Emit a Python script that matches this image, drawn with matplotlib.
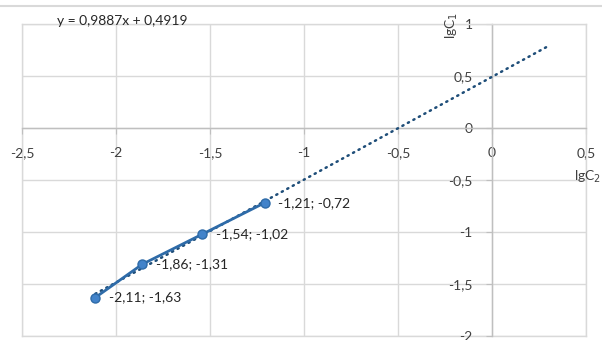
import matplotlib
matplotlib.use("Agg")
import matplotlib.pyplot as plt
from matplotlib.lines import Line2D
import numpy as np

plt.rcParams['font.family'] = ['Lato', 'DejaVu Sans']

# lg C2 vs lg C1 measurements
lg_c2 = [-2.11, -1.86, -1.54, -1.21]
lg_c1 = [-1.63, -1.31, -1.02, -0.72]
point_labels = ["-2,11; -1,63", "-1,86; -1,31", "-1,54; -1,02", "-1,21; -0,72"]

# linear trend y = k x + b
slope = 0.9887
intercept = 0.4919
trend_forward = 1.5
equation_text = "y = 0,9887x + 0,4919"

x_ticks = [-2.5, -2.0, -1.5, -1.0, -0.5, 0.0, 0.5]
x_tick_labels = ["-2,5", "-2", "-1,5", "-1", "-0,5", "0", "0,5"]
y_ticks = [-2.0, -1.5, -1.0, -0.5, 0.0, 0.5, 1.0]
y_tick_labels = ["-2", "-1,5", "-1", "-0,5", "0", "0,5", "1"]

W, H = 602, 340
fig = plt.figure(figsize=(W / 100, H / 100), dpi=100)
left, right, top, bottom = 22, 586, 24, 336
ax = fig.add_axes([left / W, 1 - bottom / H, (right - left) / W, (bottom - top) / H])

grid_c = '#D9D9D9'
axis_c = '#BFBFBF'
text_c = '#404040'

ax.set_xlim(x_ticks[0], x_ticks[-1])
ax.set_ylim(y_ticks[0], y_ticks[-1])
ax.set_xticks(x_ticks)
ax.set_xticklabels(x_tick_labels)
ax.set_yticks(y_ticks)
ax.set_yticklabels(y_tick_labels)

ax.grid(True, color=grid_c, linewidth=1.0, zorder=0)
ax.set_axisbelow(True)

# frame of the plot area
for s in ['top', 'right']:
    ax.spines[s].set_color(grid_c)
    ax.spines[s].set_linewidth(1.0)
for s in ['left', 'bottom']:
    ax.spines[s].set_position(('data', 0))
    ax.spines[s].set_color(axis_c)
    ax.spines[s].set_linewidth(1.0)
ax.axvline(x_ticks[0], color=grid_c, lw=1.0, clip_on=False, zorder=0)
ax.axhline(y_ticks[0], color=grid_c, lw=1.0, clip_on=False, zorder=0)

ax.tick_params(axis='x', direction='out', length=4, color=axis_c, pad=10,
               labelsize=10, labelcolor=text_c)
ax.tick_params(axis='y', direction='out', length=4, color=axis_c, pad=10,
               labelsize=10, labelcolor=text_c)

# trendline (dotted), from the first point extended forward
tx = np.array([lg_c2[0], lg_c2[-1] + trend_forward])
ax.plot(tx, slope * tx + intercept, color='#1F4E79', lw=1.8,
        linestyle=(0, (0.5, 2.0)), dash_capstyle='round', zorder=3)

# measured series
ax.plot(lg_c2, lg_c1, color='#2E6BA8', lw=2.0, marker='o', markersize=6.5,
        markerfacecolor='#4283CA', markeredgecolor='#2E6BA8', markeredgewidth=1.0,
        zorder=4)

for x, y, lab in zip(lg_c2, lg_c1, point_labels):
    ax.annotate(lab, (x, y), xytext=(10, 0), textcoords='offset points',
                ha='left', va='center', fontsize=10, color='#262626', zorder=5)

# axis titles
fig.text(452 / W, 1 - 25 / H, "lgC$_1$", rotation=90, ha='center', va='center',
         fontsize=10, color=text_c)
fig.text(601 / W, 1 - 177 / H, "lgC$_2$", ha='right', va='center',
         fontsize=10, color=text_c)

# trendline equation
fig.text(57 / W, 1 - 21 / H, equation_text, ha='left', va='center',
         fontsize=10, color='#262626')

# outer border line of the chart area
fig.add_artist(Line2D([0, 1], [1 - 6 / H] * 2, color=grid_c, lw=1.5))

fig.savefig("out.png", dpi=100)
